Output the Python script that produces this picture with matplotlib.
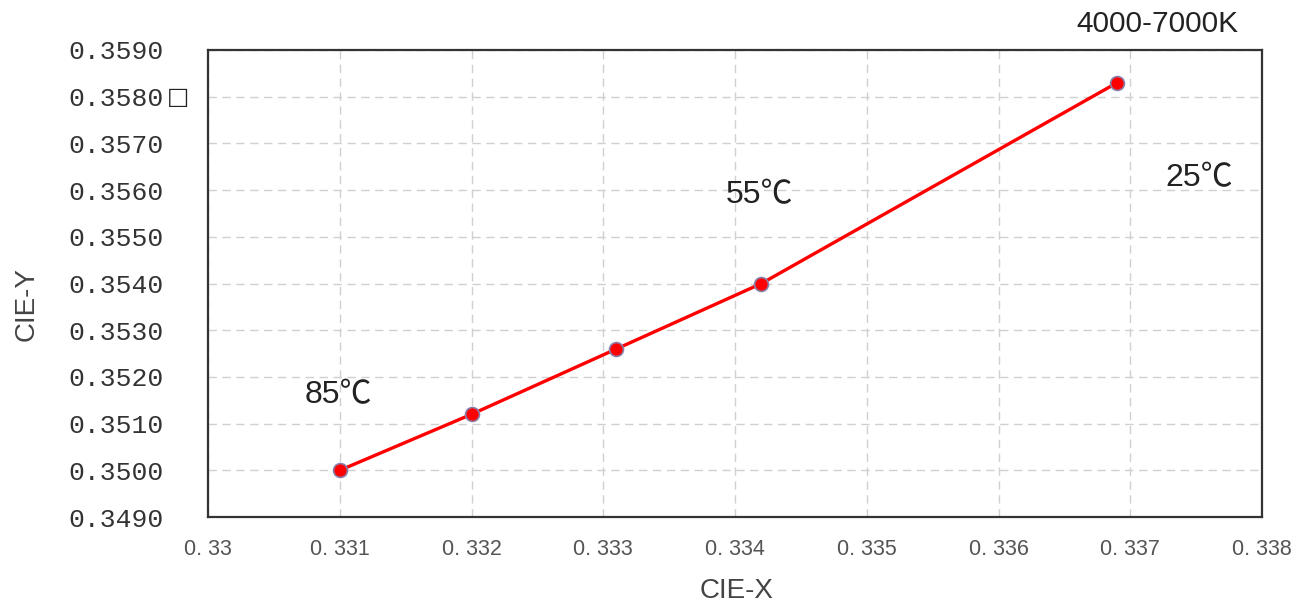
import matplotlib
matplotlib.use("Agg")
import matplotlib.pyplot as plt

# CIE chromaticity coordinates at different temperatures
cie_x = [0.3310, 0.3320, 0.3331, 0.3342, 0.3369]
cie_y = [0.3500, 0.3512, 0.3526, 0.3540, 0.3583]

x_ticks = [0.330, 0.331, 0.332, 0.333, 0.334, 0.335, 0.336, 0.337, 0.338]
x_labels = ["0. 33", "0. 331", "0. 332", "0. 333", "0. 334", "0. 335", "0. 336", "0. 337", "0. 338"]
y_ticks = [0.3490, 0.3500, 0.3510, 0.3520, 0.3530, 0.3540, 0.3550, 0.3560, 0.3570, 0.3580, 0.3590]
y_labels = ["0.3490", "0.3500", "0.3510", "0.3520", "0.3530", "0.3540",
            "0.3550", "0.3560", "0.3570", "0.3580", "0.3590"]

# annotation texts and where they sit
notes = ["85\u2103", "55\u2103", "25\u2103", "4000-7000K"]
note_x = [0.33073, 0.33393, 0.33727, 0.33659]
note_y = [0.35162, 0.35590, 0.35626, 0.35955]
note_size = [23, 23, 23, 21.5]

fig = plt.figure(figsize=(13.1, 6.09), dpi=100)
ax = fig.add_axes([0.1588, 0.151, 0.8046, 0.7669])

ax.plot(cie_x, cie_y, color="#ff0000", lw=2.4, marker="o", ms=10,
        markerfacecolor="#ff0000", markeredgecolor="#8a7fa8", markeredgewidth=1.2, zorder=3)

ax.set_xlim(0.330, 0.338)
ax.set_ylim(0.3490, 0.3590)
ax.set_xticks(x_ticks)
ax.set_xticklabels(x_labels, fontsize=15.5, color="#555555", family="Liberation Sans")
ax.set_yticks(y_ticks)
ax.set_yticklabels(y_labels, fontsize=19, color="#333333", family="Liberation Mono")
ax.tick_params(axis="both", length=0)
ax.tick_params(axis="x", pad=16)
ax.tick_params(axis="y", pad=32)

# stray box glyph next to the 0.3580 label
ax.text(-0.0285, 0.3580, "\u25a1", transform=ax.get_yaxis_transform(), fontsize=17,
        ha="center", va="center", color="#222222", family="DejaVu Sans", clip_on=False)

ax.grid(True, color="#d0d0d0", linestyle=(0, (6, 4)), lw=1.0)
for s in ax.spines.values():
    s.set_color("#333333")
    s.set_linewidth(1.6)

for t, x, y, fs in zip(notes, note_x, note_y, note_size):
    ax.text(x, y, t, fontsize=fs, ha="left", va="center", color="#222222",
            family=["Liberation Sans", "Noto Sans CJK SC"], clip_on=False)

fig.text(0.562, 0.03, "CIE-X", fontsize=20, color="#444444", ha="center", va="center",
         family="Liberation Sans")
fig.text(0.02, 0.50, "CIE-Y", fontsize=20, color="#444444", ha="center", va="center",
         rotation=90, family="Liberation Sans")

fig.savefig("out.png", dpi=100, facecolor="white")
